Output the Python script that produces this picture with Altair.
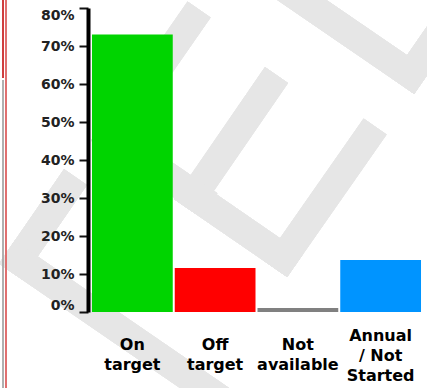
import altair as alt
import pandas as pd

categories = ["On\ntarget", "Off\ntarget", "Not\navailable", "Annual\n/ Not\nStarted"]
values = [73.0, 11.6, 1.05, 13.7]
colors = ["#00d400", "#ff0000", "#808080", "#0094ff"]
y_ticks = [0, 10, 20, 30, 40, 50, 60, 70, 80]

df = pd.DataFrame({"category": categories, "value": values, "color": colors})

# light-grey background watermark strokes (decoration, pixel positions)
WM = "#e6e6e6"
wm_segments = [
    (268.6, 86.5, 193.6, 195.6), (193.6, 195.6, 283.6, 257.5), (283.6, 257.5, 367.1, 138.0),
    (191.1, 21.0, 110.5, 137.0), (110.5, 137.0, 198.0, 197.0),
    (280.0, -15.0, 410.6, 74.5), (410.6, 74.5, 445.0, 25.0),
    (67.6, 188.5, 18.3, 260.0), (18.3, 260.0, 222.0, 400.0),
]
OX, OY = 90, 8  # plot origin inside the page


def wm_rule(s):
    x1, y1, x2, y2 = s
    return alt.Chart(df).mark_rule(color=WM, strokeWidth=28, strokeCap="square").encode(
        x=alt.value(x1 - OX), y=alt.value(y1 - OY),
        x2=alt.value(x2 - OX), y2=alt.value(y2 - OY),
    )


watermark = [wm_rule(s) for s in wm_segments]

bars = alt.Chart(df).mark_bar().encode(
    x=alt.X(
        "category:N",
        sort=categories,
        scale=alt.Scale(paddingInner=0.024, paddingOuter=0.024),
        axis=alt.Axis(
            title=None, labelAngle=0, ticks=False, domain=False, zindex=1,
            labelExpr="split(datum.label, '\\n')",
            labelFont="DejaVu Sans", labelFontWeight="bold", labelFontSize=16,
            labelColor="#000000", labelLineHeight=20, labelBaseline="middle",
            labelPadding={
                "condition": {"test": "length(split(datum.value, '\\n')) > 2", "value": 23},
                "value": 32,
            },
        ),
    ),
    y=alt.Y(
        "value:Q",
        scale=alt.Scale(domain=[0, 80], nice=False, zero=True),
        axis=alt.Axis(
            title=None, values=y_ticks, labelExpr="datum.value + '%'", zindex=1,
            grid=False, domainWidth=4, domainColor="#000000",
            tickWidth=2, tickSize=9, tickColor="#111111",
            labelFlush=True, labelFlushOffset=0, offset=2,
            labelFont="DejaVu Sans", labelFontWeight="bold", labelFontSize=14,
            labelColor="#222222", labelPadding=5,
        ),
    ),
    color=alt.Color("color:N", scale=None, legend=None),
)

edge = alt.Chart(df).mark_rule(color="#e07070", strokeWidth=2).encode(
    x=alt.value(-84), y=alt.value(-8), y2=alt.value(380)
)
edge_top = alt.Chart(df).mark_rule(color="#cc3333", strokeWidth=1).encode(
    x=alt.value(-87), y=alt.value(-8), y2=alt.value(70)
)
edge_grey = alt.Chart(df).mark_rule(color="#aaaaaa", strokeWidth=1).encode(
    x=alt.value(-87), y=alt.value(72), y2=alt.value(380)
)

chart = alt.layer(*watermark, edge, edge_top, edge_grey, bars).properties(
    width=333, height=304,
    autosize=alt.AutoSizeParams(type="none"),
    padding={"left": 90, "top": 8, "right": 4, "bottom": 76},
).configure_view(stroke=None)

chart.save("out.html", embed_options={"renderer": "svg", "actions": False})
